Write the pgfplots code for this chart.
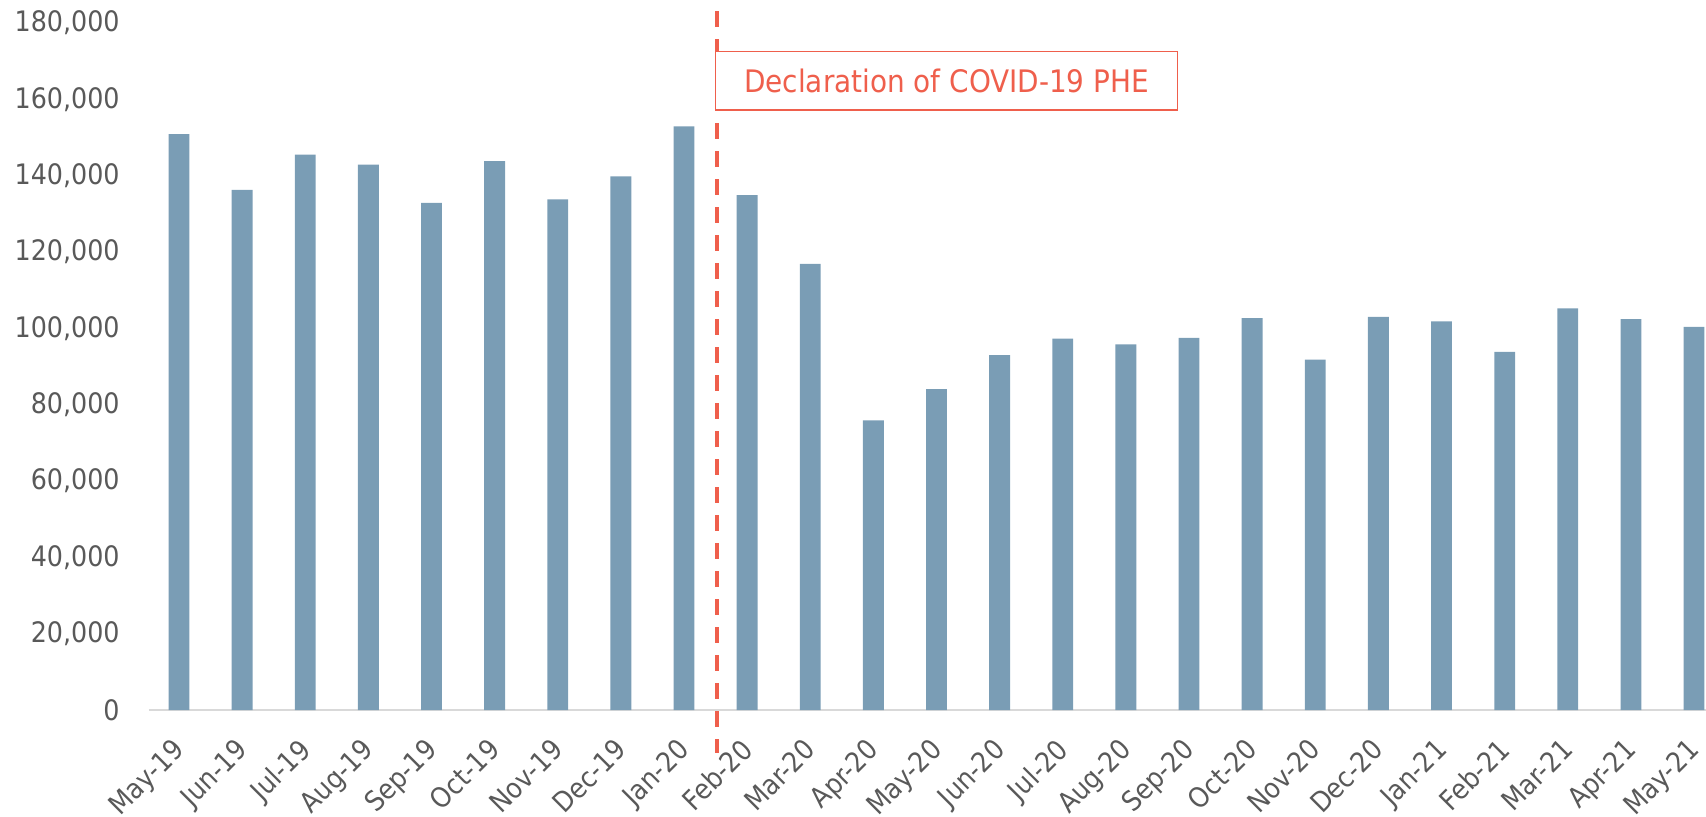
\documentclass[border=0pt]{standalone}
\usepackage{pgfplots}
\pgfplotsset{compat=1.18}
\usepackage{fontspec}
\setmainfont{DejaVu Sans Condensed}
\definecolor{barc}{HTML}{7A9DB5}
\definecolor{redc}{HTML}{EF5F4C}
\definecolor{txt}{HTML}{595959}
\definecolor{axc}{HTML}{D9D9D9}
\begin{document}
\begin{tikzpicture}
\useasboundingbox (0,0) rectangle (853pt,-408.5pt);
\begin{axis}[
  at={(74.5pt,-355pt)}, anchor=south west,
  scale only axis, width=778.5pt, height=343.5pt,
  xmin=-0.475, xmax=24.19, ymin=0, ymax=180000,
  ybar, bar width=10.4pt,
  axis x line*=bottom, axis y line*=left,
  y axis line style={draw=none},
  x axis line style={axc, line width=1pt},
  major tick length=0pt,
  xtick={0,...,24},
  xticklabels={May-19,Jun-19,Jul-19,Aug-19,Sep-19,Oct-19,Nov-19,Dec-19,Jan-20,Feb-20,Mar-20,Apr-20,May-20,Jun-20,Jul-20,Aug-20,Sep-20,Oct-20,Nov-20,Dec-20,Jan-21,Feb-21,Mar-21,Apr-21,May-21},
  x tick label style={xshift=-3.9pt, yshift=-13.2pt, rotate=45, anchor=north east, inner sep=0pt, font=\fontsize{13.9}{16}\selectfont, text=txt},
  scaled y ticks=false,
  ytick={0,20000,40000,60000,80000,100000,120000,140000,160000,180000},
  yticklabels={0,{20,000},{40,000},{60,000},{80,000},{100,000},{120,000},{140,000},{160,000},{180,000}},
  y tick label style={anchor=east, inner sep=0pt, xshift=-14.5pt, font=\fontsize{14.1}{17}\selectfont, text=txt},
  clip=false,
]
\addplot[fill=barc, draw=none] coordinates {
(0,150900) (1,136300) (2,145500) (3,142900) (4,132900) (5,143800) (6,133800) (7,139800) (8,152900)
(9,134900) (10,116900) (11,75900) (12,84100) (13,93000) (14,97300) (15,95800) (16,97500)
(17,102700) (18,91800) (19,103000) (20,101800) (21,93800) (22,105200) (23,102400) (24,100400)
};
\draw[redc, line width=2pt, dash pattern=on 8pt off 6pt] (axis cs:8.52,183100) -- (axis cs:8.52,-11270);
\draw[redc, line width=0.7pt, fill=white] (axis cs:8.5,172600) rectangle (axis cs:15.82,157200);
\node[text=redc, font=\fontsize{15.5}{18}\selectfont, inner sep=0pt] at (axis cs:12.16,164900) {Declaration of COVID-19 PHE};
\end{axis}
\end{tikzpicture}
\end{document}
